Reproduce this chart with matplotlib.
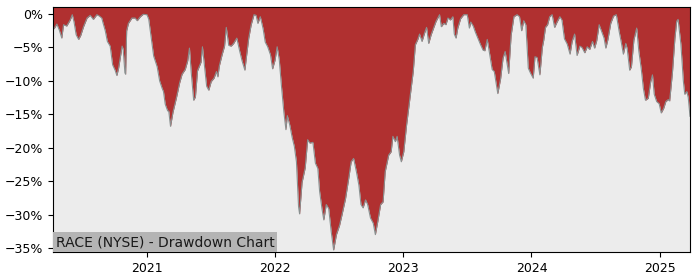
import matplotlib
matplotlib.use("Agg")
import matplotlib.pyplot as plt
import matplotlib.dates as mdates
from matplotlib.ticker import FuncFormatter
from matplotlib.offsetbox import AnchoredText
import pandas as pd

title_text = "RACE (NYSE) - Drawdown Chart"

dates = [
    "2020-04-07", "2020-04-10", "2020-04-18", "2020-04-25", "2020-05-02", "2020-05-07", "2020-05-16",
    "2020-05-26", "2020-06-01", "2020-06-06", "2020-06-12", "2020-06-19", "2020-06-25", "2020-07-03",
    "2020-07-13", "2020-07-22", "2020-07-31", "2020-08-10", "2020-08-17", "2020-08-24", "2020-08-28",
    "2020-09-03", "2020-09-09", "2020-09-17", "2020-09-24", "2020-10-01", "2020-10-06", "2020-10-11",
    "2020-10-18", "2020-10-21", "2020-10-24", "2020-10-29", "2020-10-31", "2020-11-03", "2020-11-08",
    "2020-11-18", "2020-11-27", "2020-12-03", "2020-12-12", "2020-12-20", "2020-12-31",
    "2021-01-05", "2021-01-12", "2021-01-19", "2021-01-29", "2021-02-05", "2021-02-12", "2021-02-16",
    "2021-02-21", "2021-02-28", "2021-03-03", "2021-03-08", "2021-03-15", "2021-03-25", "2021-04-03",
    "2021-04-10", "2021-04-19", "2021-04-26", "2021-05-01", "2021-05-06", "2021-05-13", "2021-05-18",
    "2021-05-24", "2021-06-03", "2021-06-07", "2021-06-13", "2021-06-19", "2021-06-25", "2021-07-02",
    "2021-07-10", "2021-07-17", "2021-07-21", "2021-07-25", "2021-08-02", "2021-08-09", "2021-08-14",
    "2021-08-21", "2021-08-28", "2021-09-04", "2021-09-13", "2021-09-21", "2021-09-28", "2021-10-06",
    "2021-10-10", "2021-10-17", "2021-10-24", "2021-11-01", "2021-11-07", "2021-11-12", "2021-11-19",
    "2021-11-27", "2021-12-03", "2021-12-10", "2021-12-18", "2021-12-24", "2021-12-31",
    "2022-01-06", "2022-01-12", "2022-01-18", "2022-01-25", "2022-01-31", "2022-02-04", "2022-02-11",
    "2022-02-18", "2022-02-24", "2022-03-02", "2022-03-08", "2022-03-11", "2022-03-18", "2022-03-27",
    "2022-04-03", "2022-04-09", "2022-04-18", "2022-04-25", "2022-05-02", "2022-05-07", "2022-05-14",
    "2022-05-19", "2022-05-26", "2022-06-02", "2022-06-09", "2022-06-16", "2022-06-24", "2022-07-03",
    "2022-07-10", "2022-07-20", "2022-07-29", "2022-08-05", "2022-08-12", "2022-08-20", "2022-08-27",
    "2022-09-02", "2022-09-08", "2022-09-15", "2022-09-21", "2022-09-29", "2022-10-07", "2022-10-13",
    "2022-10-20", "2022-10-28", "2022-11-04", "2022-11-10", "2022-11-20", "2022-11-27", "2022-12-02",
    "2022-12-09", "2022-12-14", "2022-12-21", "2022-12-26",
    "2023-01-02", "2023-01-10", "2023-01-16", "2023-01-23", "2023-01-29", "2023-02-04", "2023-02-11",
    "2023-02-16", "2023-02-23", "2023-03-02", "2023-03-08", "2023-03-14", "2023-03-21", "2023-03-28",
    "2023-04-04", "2023-04-14", "2023-04-19", "2023-04-26", "2023-05-02", "2023-05-08", "2023-05-15",
    "2023-05-22", "2023-05-26", "2023-05-31", "2023-06-05", "2023-06-13", "2023-06-22", "2023-07-02",
    "2023-07-08", "2023-07-12", "2023-07-19", "2023-07-25", "2023-08-01", "2023-08-09", "2023-08-16",
    "2023-08-21", "2023-08-28", "2023-09-04", "2023-09-11", "2023-09-17", "2023-09-23", "2023-09-27",
    "2023-10-05", "2023-10-12", "2023-10-18", "2023-10-24", "2023-10-28", "2023-11-04", "2023-11-12",
    "2023-11-21", "2023-11-28", "2023-12-04", "2023-12-10", "2023-12-16", "2023-12-23", "2023-12-29",
    "2024-01-06", "2024-01-11", "2024-01-17", "2024-01-25", "2024-02-01", "2024-02-05", "2024-02-10",
    "2024-02-16", "2024-02-22", "2024-02-29", "2024-03-07", "2024-03-14", "2024-03-22", "2024-03-28",
    "2024-04-04", "2024-04-12", "2024-04-20", "2024-04-26", "2024-05-03", "2024-05-10", "2024-05-18",
    "2024-05-24", "2024-06-01", "2024-06-08", "2024-06-15", "2024-06-23", "2024-06-29", "2024-07-05",
    "2024-07-12", "2024-07-19", "2024-07-26", "2024-07-31", "2024-08-06", "2024-08-14", "2024-08-22",
    "2024-08-30", "2024-09-07", "2024-09-13", "2024-09-19", "2024-09-26", "2024-09-30", "2024-10-07",
    "2024-10-12", "2024-10-19", "2024-10-27", "2024-11-02", "2024-11-09", "2024-11-15", "2024-11-21",
    "2024-11-29", "2024-12-06", "2024-12-11", "2024-12-16", "2024-12-23", "2024-12-30",
    "2025-01-05", "2025-01-12", "2025-01-18", "2025-01-25", "2025-01-29", "2025-02-06", "2025-02-13",
    "2025-02-18", "2025-02-22", "2025-03-02", "2025-03-09", "2025-03-13", "2025-03-19", "2025-03-23",
    "2025-03-28",
]

drawdown_pct = [
    -2.1, -2.2, -1.5, -2.4, -3.6, -1.6, -1.8,
    -0.9, -0.1, -1.2, -3.1, -3.8, -3.2, -1.9,
    -0.6, -0.2, -0.8, -0.1, -0.3, -0.6, -1.4,
    -2.5, -4.1, -4.8, -7.6, -8.4, -9.2, -8.1,
    -5.8, -4.8, -5.2, -8.8, -9.0, -2.5, -1.4,
    -0.6, -0.6, -1.0, -0.4, -0.05, -0.1,
    -0.8, -3.6, -6.3, -7.9, -10.0, -11.1, -11.6,
    -13.5, -14.5, -14.5, -16.8, -14.7, -12.5, -10.3,
    -9.0, -8.3, -7.0, -5.1, -8.7, -12.9, -12.4,
    -8.5, -7.2, -4.9, -7.9, -10.8, -11.4, -10.1,
    -9.6, -8.6, -9.4, -7.8, -6.1, -4.8, -2.0,
    -4.7, -4.8, -4.4, -3.6, -5.5, -7.0, -8.4,
    -6.6, -3.6, -1.6, -0.1, -0.2, -1.4, -0.4,
    -2.2, -4.2, -4.9, -6.1, -8.2, -6.9,
    -4.9, -6.8, -10.6, -14.6, -17.3, -15.2, -16.6,
    -18.5, -19.8, -22.1, -28.8, -29.9, -25.2, -23.0,
    -18.8, -19.3, -19.2, -22.3, -23.1, -26.5, -29.2,
    -30.8, -28.5, -29.1, -32.5, -35.3, -33.0, -31.6,
    -30.0, -27.6, -24.6, -22.1, -21.6, -23.6, -25.6,
    -28.5, -29.0, -27.8, -28.5, -30.5, -31.3, -33.0,
    -31.0, -28.5, -28.1, -23.6, -21.1, -20.6, -18.3,
    -19.1, -18.3, -21.1, -22.1,
    -20.6, -16.6, -14.1, -11.1, -8.6, -4.6, -3.8,
    -3.0, -4.1, -2.9, -2.0, -4.4, -3.1, -2.1,
    -1.1, -0.1, -1.9, -1.4, -1.6, -0.6, -0.9,
    -0.4, -3.0, -3.6, -2.1, -0.7, -0.1, -0.1,
    -2.1, -1.2, -1.8, -2.7, -3.6, -4.6, -5.4,
    -5.5, -3.8, -6.0, -8.3, -8.6, -10.6, -11.9,
    -9.7, -6.6, -5.6, -7.6, -8.9, -3.2, -0.4,
    -0.1, -0.4, -2.5, -1.0, -1.6, -8.1, -8.8,
    -9.6, -6.4, -6.5, -9.1, -5.0, -3.9, -2.0,
    -1.6, -0.4, -0.1, -2.0, -1.2, -0.4, -0.9,
    -3.7, -4.5, -6.0, -4.1, -3.0, -6.2, -4.8,
    -5.0, -5.8, -4.9, -5.3, -4.1, -5.1, -4.0,
    -1.6, -2.6, -3.6, -5.1, -3.8, -1.4, -0.3,
    -0.1, -2.6, -4.2, -6.0, -4.4, -5.2, -8.4,
    -7.9, -3.9, -2.1, -5.5, -8.2, -11.1, -12.9,
    -12.6, -10.1, -9.1, -12.0, -13.1, -13.4,
    -14.8, -14.1, -13.1, -12.8, -13.0, -8.7, -3.6,
    -1.1, -0.8, -4.5, -10.0, -12.0, -11.6, -12.5,
    -15.3,
]

y_ticks = [0, -5, -10, -15, -20, -25, -30, -35]
y_limits = (-35.6, 1.05)

x = pd.to_datetime(dates)

fig = plt.figure(figsize=(7, 2.8), dpi=100)
ax = fig.add_axes([53 / 700, 1 - 252 / 280, 637 / 700, 245 / 280])
ax.set_facecolor("#ececec")

ax.fill_between(x, drawdown_pct, y_limits[1], color="#b03030", linewidth=0)
ax.plot(x, drawdown_pct, color="#8a9090", linewidth=0.8)

ax.set_xlim(x[0], x[-1])
ax.set_ylim(*y_limits)
ax.set_yticks(y_ticks)


def pct_fmt(v, pos):
    s = f"{v:.0f}%"
    if s == "-0%":
        s = "0%"
    return s.replace("-", "\u2212")


ax.yaxis.set_major_formatter(FuncFormatter(pct_fmt))
ax.xaxis.set_major_locator(mdates.YearLocator())
ax.xaxis.set_major_formatter(mdates.DateFormatter("%Y"))
ax.tick_params(axis="both", labelsize=9)

at = AnchoredText(title_text, loc="lower left", prop=dict(size=10, color="#1a1a1a"),
                  frameon=True, pad=0.2, borderpad=0.0)
at.patch.set_facecolor("#b4b4b4")
at.patch.set_edgecolor("none")
at.patch.set_boxstyle("square,pad=0")
ax.add_artist(at)

fig.savefig("out.png", dpi=100)
